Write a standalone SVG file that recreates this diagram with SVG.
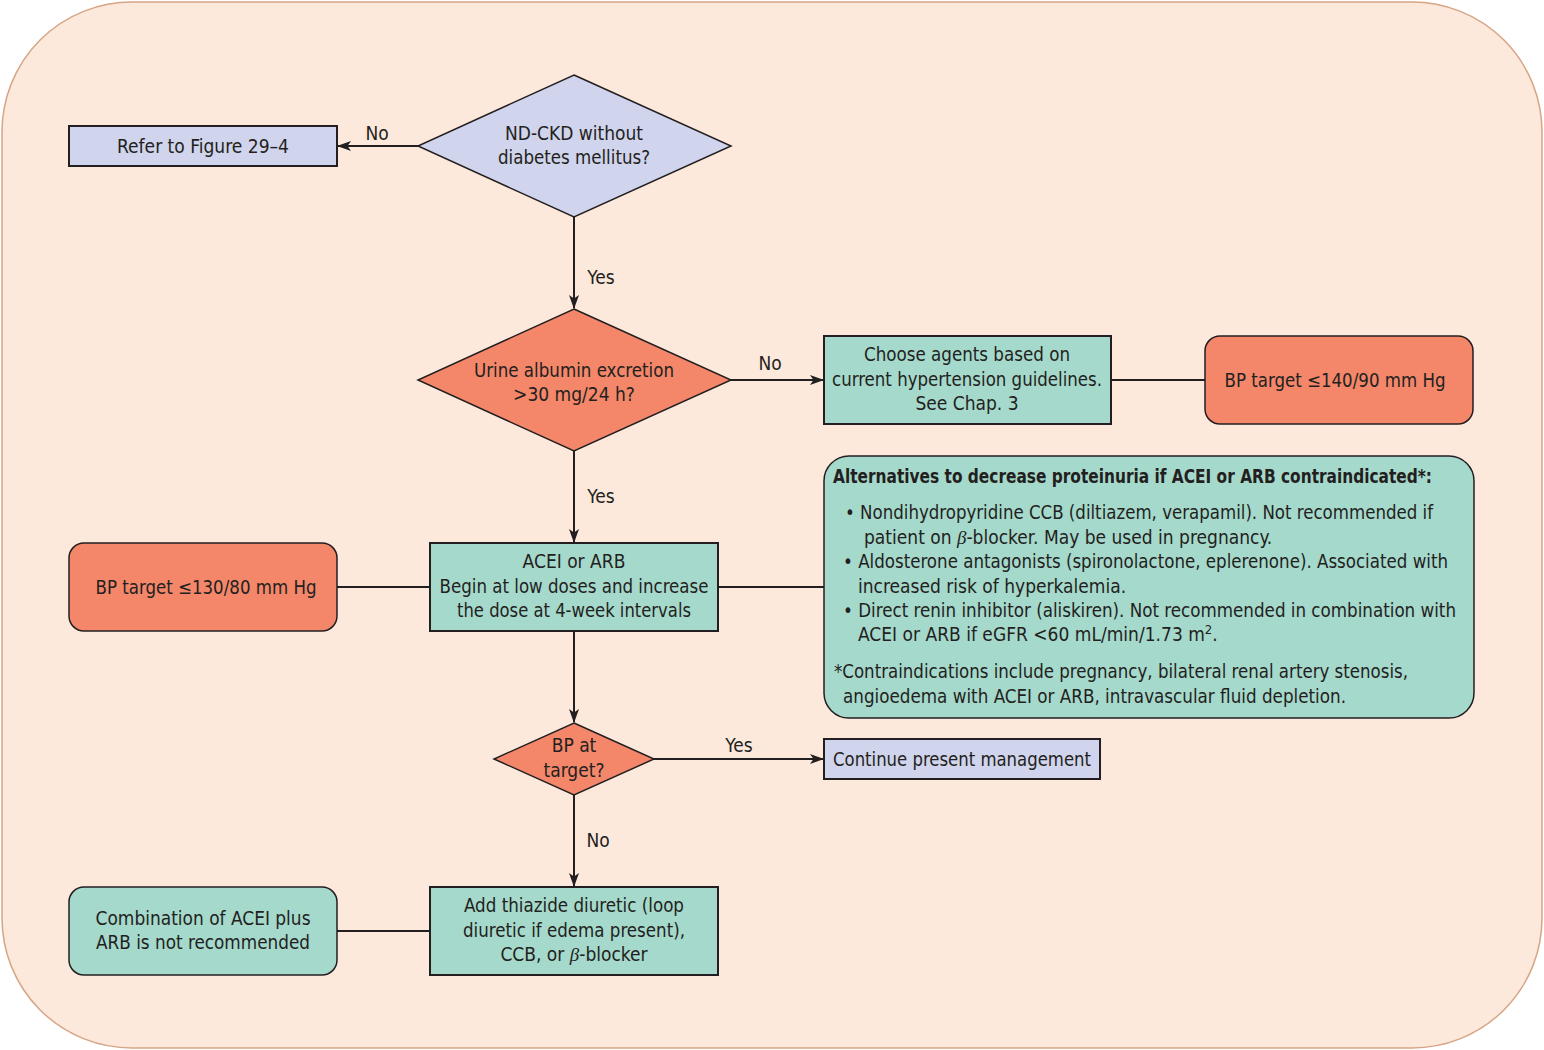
<svg xmlns="http://www.w3.org/2000/svg" width="1544" height="1050" viewBox="0 0 1544 1050">
<defs>
<marker id="ah" viewBox="0 0 14 10" refX="13" refY="5" markerWidth="14" markerHeight="10" markerUnits="userSpaceOnUse" orient="auto">
<path d="M0,0 L14,5 L0,10 L3.5,5 Z" fill="#231f20"/>
</marker>
<style>
text{font-family:"Liberation Sans Narrow","DejaVu Sans Condensed","Liberation Sans",sans-serif;font-size:19px;fill:#231f20;}
.c{text-anchor:middle;}
.b{font-weight:bold;}
.beta{font-family:"Liberation Serif",serif;font-style:italic;}
.lav{fill:#d0d4ec;stroke:#231f20;stroke-width:2;}
.sal{fill:#f4876a;stroke:#231f20;stroke-width:1.5;}
.tea{fill:#a5d9cc;stroke:#231f20;stroke-width:2;}
.teal2{fill:#a5d9cc;stroke:#231f20;stroke-width:1.5;}
.ln{stroke:#231f20;stroke-width:2;fill:none;}
.arr{stroke:#231f20;stroke-width:2;fill:none;marker-end:url(#ah);}
</style>
</defs>
<rect x="2" y="2" width="1540" height="1046" rx="130" ry="130" fill="#fde9dc" stroke="#d6a585" stroke-width="1.5"/>

<g id="connectors">
<line class="arr" x1="418" y1="146" x2="338" y2="146"/>
<line class="arr" x1="574" y1="217" x2="574" y2="308"/>
<line class="arr" x1="731" y1="380" x2="823" y2="380"/>
<line class="ln" x1="1111" y1="380" x2="1205" y2="380"/>
<line class="arr" x1="574" y1="451" x2="574" y2="542"/>
<line class="ln" x1="337" y1="587" x2="430" y2="587"/>
<line class="ln" x1="718" y1="587" x2="824" y2="587"/>
<line class="arr" x1="574" y1="631" x2="574" y2="722"/>
<line class="arr" x1="654" y1="759" x2="823" y2="759"/>
<line class="arr" x1="574" y1="795" x2="574" y2="886"/>
<line class="ln" x1="337" y1="931" x2="430" y2="931"/>
<text x="377" y="140" class="c">No</text>
<text x="601" y="284" class="c">Yes</text>
<text x="770" y="370" class="c">No</text>
<text x="601" y="503" class="c">Yes</text>
<text x="739" y="752" class="c">Yes</text>
<text x="598" y="847" class="c">No</text>
</g>

<g id="refer">
<rect class="lav" x="69" y="126" width="268" height="40"/>
<text x="203" y="153" class="c" textLength="172" lengthAdjust="spacingAndGlyphs">Refer to Figure 29–4</text>
</g>

<g id="d1">
<polygon class="lav" style="stroke-width:1.5" points="574,75 731,146 574,217 418,146"/>
<text x="574" y="140" class="c">ND-CKD without</text>
<text x="574" y="164" class="c" textLength="152" lengthAdjust="spacingAndGlyphs">diabetes mellitus?</text>
</g>

<g id="d2">
<polygon class="sal" points="574,309 731,380 574,451 418,380"/>
<text x="574" y="377" class="c" textLength="200" lengthAdjust="spacingAndGlyphs">Urine albumin excretion</text>
<text x="574" y="401" class="c">&gt;30 mg/24 h?</text>
</g>

<g id="choose">
<rect class="tea" x="824" y="336" width="287" height="88"/>
<text x="967" y="361" class="c" textLength="206" lengthAdjust="spacingAndGlyphs">Choose agents based on</text>
<text x="967" y="386" class="c" textLength="270" lengthAdjust="spacingAndGlyphs">current hypertension guidelines.</text>
<text x="967" y="410" class="c">See Chap. 3</text>
</g>

<g id="bp140">
<rect class="sal" x="1205" y="336" width="268" height="88" rx="15" ry="15"/>
<text x="1335" y="387" class="c" textLength="221" lengthAdjust="spacingAndGlyphs">BP target ≤140/90 mm Hg</text>
</g>

<g id="acei">
<rect class="tea" x="430" y="543" width="288" height="88"/>
<text x="574" y="568" class="c">ACEI or ARB</text>
<text x="574" y="593" class="c" textLength="269" lengthAdjust="spacingAndGlyphs">Begin at low doses and increase</text>
<text x="574" y="617" class="c" textLength="234" lengthAdjust="spacingAndGlyphs">the dose at 4-week intervals</text>
</g>

<g id="bp130">
<rect class="sal" x="69" y="543" width="268" height="88" rx="15" ry="15"/>
<text x="206" y="594" class="c" textLength="221" lengthAdjust="spacingAndGlyphs">BP target ≤130/80 mm Hg</text>
</g>

<g id="alternatives">
<rect class="teal2" x="824" y="456" width="650" height="262" rx="25" ry="25"/>
<text x="833" y="483" class="b" textLength="599" lengthAdjust="spacingAndGlyphs">Alternatives to decrease proteinuria if ACEI or ARB contraindicated*:</text>
<text x="845" y="519" textLength="588" lengthAdjust="spacingAndGlyphs">• Nondihydropyridine CCB (diltiazem, verapamil). Not recommended if</text>
<text x="864" y="544">patient on <tspan class="beta">β</tspan>-blocker. May be used in pregnancy.</text>
<text x="843" y="568" textLength="605" lengthAdjust="spacingAndGlyphs">• Aldosterone antagonists (spironolactone, eplerenone). Associated with</text>
<text x="858" y="593">increased risk of hyperkalemia.</text>
<text x="843" y="617" textLength="613" lengthAdjust="spacingAndGlyphs">• Direct renin inhibitor (aliskiren). Not recommended in combination with</text>
<text x="858" y="641">ACEI or ARB if eGFR &lt;60 mL/min/1.73 m<tspan dy="-7" font-size="13">2</tspan><tspan dy="7">.</tspan></text>
<text x="834" y="678" textLength="574" lengthAdjust="spacingAndGlyphs">*Contraindications include pregnancy, bilateral renal artery stenosis,</text>
<text x="843" y="703" textLength="503" lengthAdjust="spacingAndGlyphs">angioedema with ACEI or ARB, intravascular fluid depletion.</text>
</g>

<g id="d3">
<polygon class="sal" points="574,723 654,759 574,795 494,759"/>
<text x="574" y="752" class="c">BP at</text>
<text x="574" y="777" class="c">target?</text>
</g>

<g id="continue">
<rect class="lav" x="824" y="739" width="276" height="40"/>
<text x="962" y="766" class="c" textLength="258" lengthAdjust="spacingAndGlyphs">Continue present management</text>
</g>

<g id="thiazide">
<rect class="tea" x="430" y="887" width="288" height="88"/>
<text x="574" y="912" class="c" textLength="220" lengthAdjust="spacingAndGlyphs">Add thiazide diuretic (loop</text>
<text x="574" y="937" class="c" textLength="222" lengthAdjust="spacingAndGlyphs">diuretic if edema present),</text>
<text x="574" y="961" class="c">CCB, or <tspan class="beta">β</tspan>-blocker</text>
</g>

<g id="combo">
<rect class="teal2" x="69" y="887" width="268" height="88" rx="15" ry="15"/>
<text x="203" y="925" class="c" textLength="215" lengthAdjust="spacingAndGlyphs">Combination of ACEI plus</text>
<text x="203" y="949" class="c" textLength="214" lengthAdjust="spacingAndGlyphs">ARB is not recommended</text>
</g>
</svg>
